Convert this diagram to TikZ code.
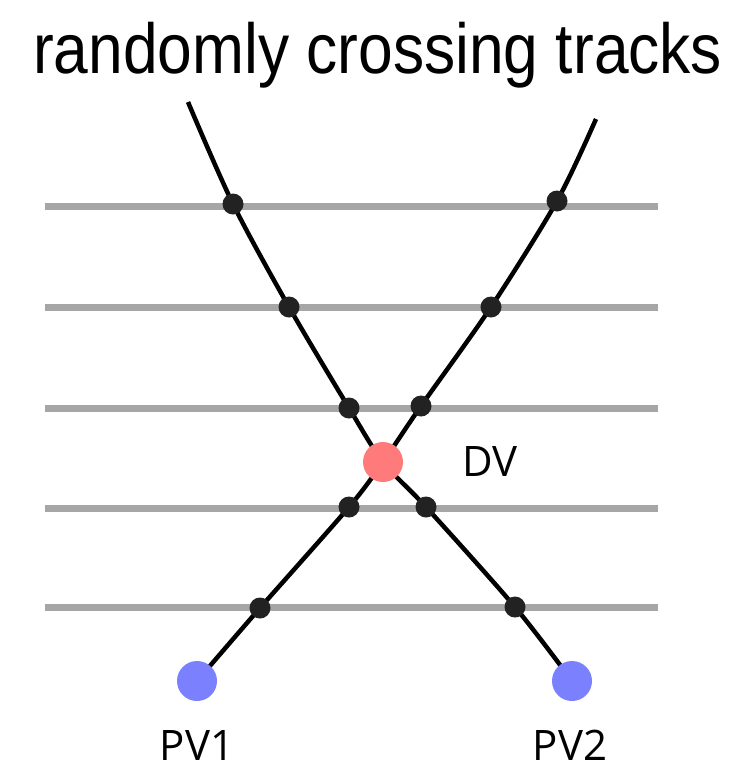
\documentclass[tikz,border=0pt]{standalone}
\usepackage{fontspec}
\setmainfont{Liberation Sans}
\newfontfamily\labelfont{Open Sans}
\begin{document}
\begin{tikzpicture}[x=1pt,y=-1pt,
  layer/.style={draw=layergray,line width=7pt},
  track/.style={draw=black,line width=4.5pt},
  hit/.style={circle,fill=hitgray,minimum size=21pt,inner sep=0pt},
  dvtx/.style={circle,fill=dvred,minimum size=40pt,inner sep=0pt},
  pvtx/.style={circle,fill=pvblue,minimum size=40pt,inner sep=0pt},
  lbl/.style={font=\labelfont\fontsize{42}{46}\selectfont}]
\definecolor{layergray}{HTML}{A6A6A6}
\definecolor{hitgray}{HTML}{222222}
\definecolor{dvred}{HTML}{FF7B7B}
\definecolor{pvblue}{HTML}{7B80FF}
\useasboundingbox (0,0) rectangle (754,769);
% title
\node[anchor=south west,inner sep=0pt] (title) at (33,88) {\resizebox*{689pt}{66pt}{\fontsize{60}{64}\selectfont randomly crossing tracks}};
% layers
\foreach \y/\n in {206/1,307/2,408/3,508/4,607/5}{
  \coordinate (L\n w) at (45,\y);
  \coordinate (L\n e) at (658,\y);
  \draw[layer] (L\n w) -- (L\n e);
}
% track A points
\coordinate (A0) at (188,102);
\coordinate (A1) at (233,204);
\coordinate (A2) at (289,307);
\coordinate (A3) at (349,408);
\coordinate (X) at (383,462);
\coordinate (A4) at (426,507);
\coordinate (A5) at (515,607);
\coordinate (P2) at (572,681);
% track B points
\coordinate (P1) at (197,681);
\coordinate (B5) at (260,608);
\coordinate (B4) at (349,507);
\coordinate (B3) at (421,406);
\coordinate (B2) at (491,307);
\coordinate (B1) at (557,201);
\coordinate (B0) at (596,119);
\draw[track] plot[smooth,tension=0.5] coordinates {(A0) (A1) (A2) (A3) (X) (A4) (A5) (P2)};
\draw[track] plot[smooth,tension=0.5] coordinates {(P1) (B5) (B4) (X) (B3) (B2) (B1) (B0)};
\foreach \p in {A1,A2,A3,A4,A5,B1,B2,B3,B4,B5}{
  \node[hit] (h\p) at (\p) {};
}
\node[dvtx] (dv) at (X) {};
\node[pvtx] (pv1) at (P1) {};
\node[pvtx] (pv2) at (P2) {};
\node[lbl] (dvl) at (490,462) {DV};
\node[lbl,anchor=base,inner sep=0pt] (pv1l) at (197,760) {PV1};
\node[lbl,anchor=base,inner sep=0pt] (pv2l) at (570,760) {PV2};
\end{tikzpicture}
\end{document}
